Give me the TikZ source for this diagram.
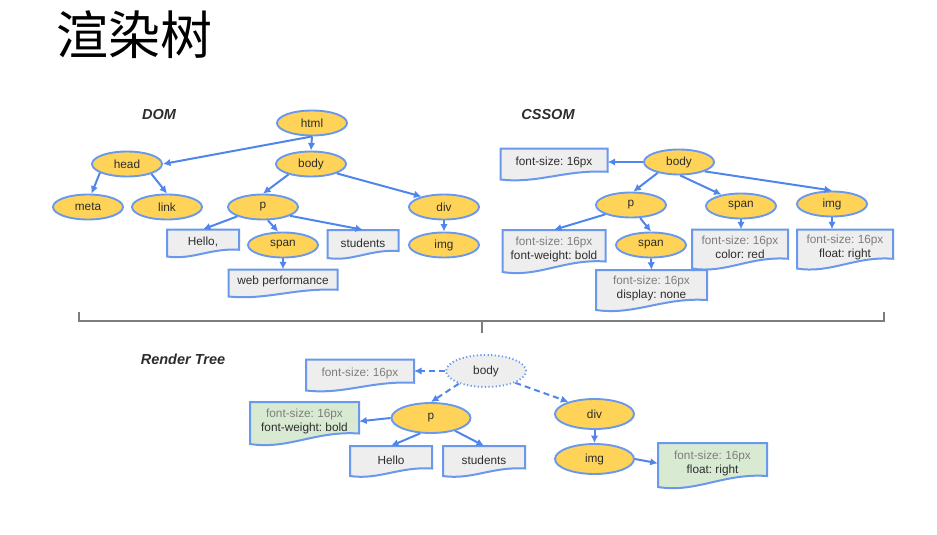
\documentclass[tikz,border=0pt]{standalone}
\usepackage{fontspec}
\setmainfont{Liberation Sans}
\newfontfamily\cjk{Noto Sans CJK SC}
\usetikzlibrary{shapes.geometric,arrows.meta,calc}
\frenchspacing
\definecolor{ylw}{RGB}{255,211,88}
\definecolor{bl}{RGB}{80,134,236}
\definecolor{bdr}{RGB}{105,152,236}
\definecolor{gbox}{RGB}{238,238,238}
\definecolor{grn}{RGB}{217,234,211}
\definecolor{gtxt}{RGB}{125,125,125}
\definecolor{dtxt}{RGB}{45,45,45}
\definecolor{brc}{RGB}{125,125,125}
\newcommand\fs{\fontsize{11.8}{14}\selectfont}
\newcommand\lblfont{\fontsize{14.5}{17}\selectfont\bfseries\itshape}
\newcommand\gr[1]{\textcolor{gtxt}{#1}}
% name, x, y, w, h, fill, text
\newcommand\docnode[7]{%
  \path[fill=#6, draw=bdr, line width=2pt]
    ({#2-#4/2},{#3-#5/2}) -- ({#2+#4/2},{#3-#5/2}) -- ({#2+#4/2},{#3+#5/2-0.25*#5})
    .. controls ({#2+0.1*#4},{#3+#5/2-0.32*#5}) and ({#2-0.15*#4},{#3+#5/2+0.14*#5})
    .. ({#2-#4/2},{#3+#5/2}) -- cycle;
  \node[docn, minimum width=#4, minimum height={0.92*#5}] (#1) at (#2,{#3-0.04*#5}) {#7};}
\tikzset{
  ell/.style={ellipse, draw=bdr, line width=1.9pt, fill=ylw, minimum width=70, minimum height=25, inner sep=0pt, font=\fs, text=dtxt},
  bigell/.style={ell, minimum width=79, minimum height=30},
  docn/.style={rectangle, inner sep=0pt, align=center, font=\fs, text=dtxt},
  arr/.style={-{Latex[length=7.5pt,width=7.5pt]}, draw=bl, line width=2pt},
  darr/.style={arr, dash pattern=on 6pt off 4pt},
  lbl/.style={font=\lblfont, text=dtxt}
}
\begin{document}
\begin{tikzpicture}[x=1pt,y=-1pt]
\useasboundingbox (0,0) rectangle (937,535);
\node[font=\cjk\fontsize{52}{52}\selectfont, text=black] (title) at (134,35) {渲染树};

% ---------------- DOM
\node[lbl] (domlbl) at (159,115) {DOM};
\node[ell] (dhtml) at (312,123) {html};
\node[ell] (dhead) at (127,164) {head};
\node[ell] (dbody) at (311,164) {body};
\node[ell] (dmeta) at (88,207) {meta};
\node[ell] (dlink) at (167,207) {link};
\node[ell] (dp) at (263,207) {p};
\node[ell] (ddiv) at (444,207) {div};
\node[ell] (dspan) at (283,245) {span};
\node[ell] (dimg) at (444,245) {img};
\docnode{dhello}{203}{243}{72}{27}{gbox}{Hello,}
\docnode{dstud}{363}{244}{71}{28}{gbox}{students}
\docnode{dweb}{283}{283}{109}{27}{gbox}{web performance}

\draw[arr] (dhtml.south) -- (dhead.east);
\draw[arr] (dhtml.south) -- (dbody.north);
\draw[arr] (dhead.198) -- (dmeta.75);
\draw[arr] (dhead.-22) -- (dlink.north);
\draw[arr] (dbody.205) -- (dp.north);
\draw[arr] (dbody.-20) -- (ddiv.155);
\draw[arr] (dp.200) -- (dhello.north);
\draw[arr] (dp.-70) -- (dspan.110);
\draw[arr] (dp.-18) -- (dstud.north);
\draw[arr] (dspan.south) -- (dweb.north);
\draw[arr] (ddiv.south) -- (dimg.north);

% ---------------- CSSOM
\node[lbl] (csslbl) at (548,115) {CSSOM};
\node[ell] (cbody) at (679,162) {body};
\node[ell] (cp) at (631,205) {p};
\node[ell] (cspan) at (741,206) {span};
\node[ell] (cimg) at (832,204) {img};
\node[ell] (cspan2) at (651,245) {span};
\docnode{cfs}{554}{164}{107}{31}{gbox}{font-size: 16px}
\docnode{cpbox}{554}{251}{103}{42}{gbox}{\gr{font-size: 16px}\\font-weight: bold}
\docnode{cs2box}{651.5}{290}{111}{40}{gbox}{\gr{font-size: 16px}\\display: none}
\docnode{cspanbox}{740}{249}{96}{39}{gbox}{\gr{font-size: 16px}\\color: red}
\docnode{cimgbox}{845}{249}{96}{39}{gbox}{\gr{font-size: 16px}\\float: right}

\draw[arr] (cbody.west) -- (cbody.west -| cfs.east);
\draw[arr] (cbody.207) -- (cp.80);
\draw[arr] (cbody.-85) -- (cspan.150);
\draw[arr] (cbody.-20) -- (cimg.north);
\draw[arr] (cp.200) -- (cpbox.north);
\draw[arr] (cp.-55) -- (cspan2.north);
\draw[arr] (cspan2.south) -- (cs2box.north);
\draw[arr] (cspan.south) -- (cspan.south |- cspanbox.north);
\draw[arr] (cimg.south) -- (cimg.south |- cimgbox.north);

% ---------------- brace
\coordinate (bl1) at (79,312);
\coordinate (br1) at (884,312);
\coordinate (bmid) at (482,321);
\coordinate (btip) at (482,333);
\draw[brc, line width=1.7pt] (bl1) -- (bl1 |- bmid) -- (br1 |- bmid) -- (br1);
\draw[brc, line width=1.7pt] (bmid) -- (btip);

% ---------------- Render Tree
\node[lbl] (rtlbl) at (183,359) {Render Tree};
\node[ell, fill=gbox, dash pattern=on 1.2pt off 2.4pt, line width=1.9pt, minimum width=80, minimum height=32] (rbody) at (486,371) {body};
\node[bigell] (rp) at (431,418) {p};
\node[bigell] (rdiv) at (594.5,414) {div};
\node[bigell] (rimg) at (594.5,459) {img};
\docnode{rfs}{360}{375}{108}{31}{gbox}{\gr{font-size: 16px}}
\docnode{rg1}{304.5}{423}{109}{42}{grn}{\gr{font-size: 16px}\\font-weight: bold}
\docnode{rhello}{391}{461}{82}{30}{gbox}{Hello}
\docnode{rstud}{484}{461}{82}{30}{gbox}{students}
\docnode{rg2}{712.5}{465}{109}{44}{grn}{\gr{font-size: 16px}\\float: right}

\draw[darr] (rbody.west) -- (rbody.west -| rfs.east);
\draw[darr] (rbody.205) -- (rp.north);
\draw[darr] (rbody.-22) -- (rdiv.155);
\draw[arr] (rp.west) -- (rg1.east);
\draw[arr] (rp.235) -- (rhello.north);
\draw[arr] (rp.-28) -- (rstud.north);
\draw[arr] (rdiv.south) -- (rimg.north);
\draw[arr] (rimg.east) -- (rg2.west);
\end{tikzpicture}
\end{document}
